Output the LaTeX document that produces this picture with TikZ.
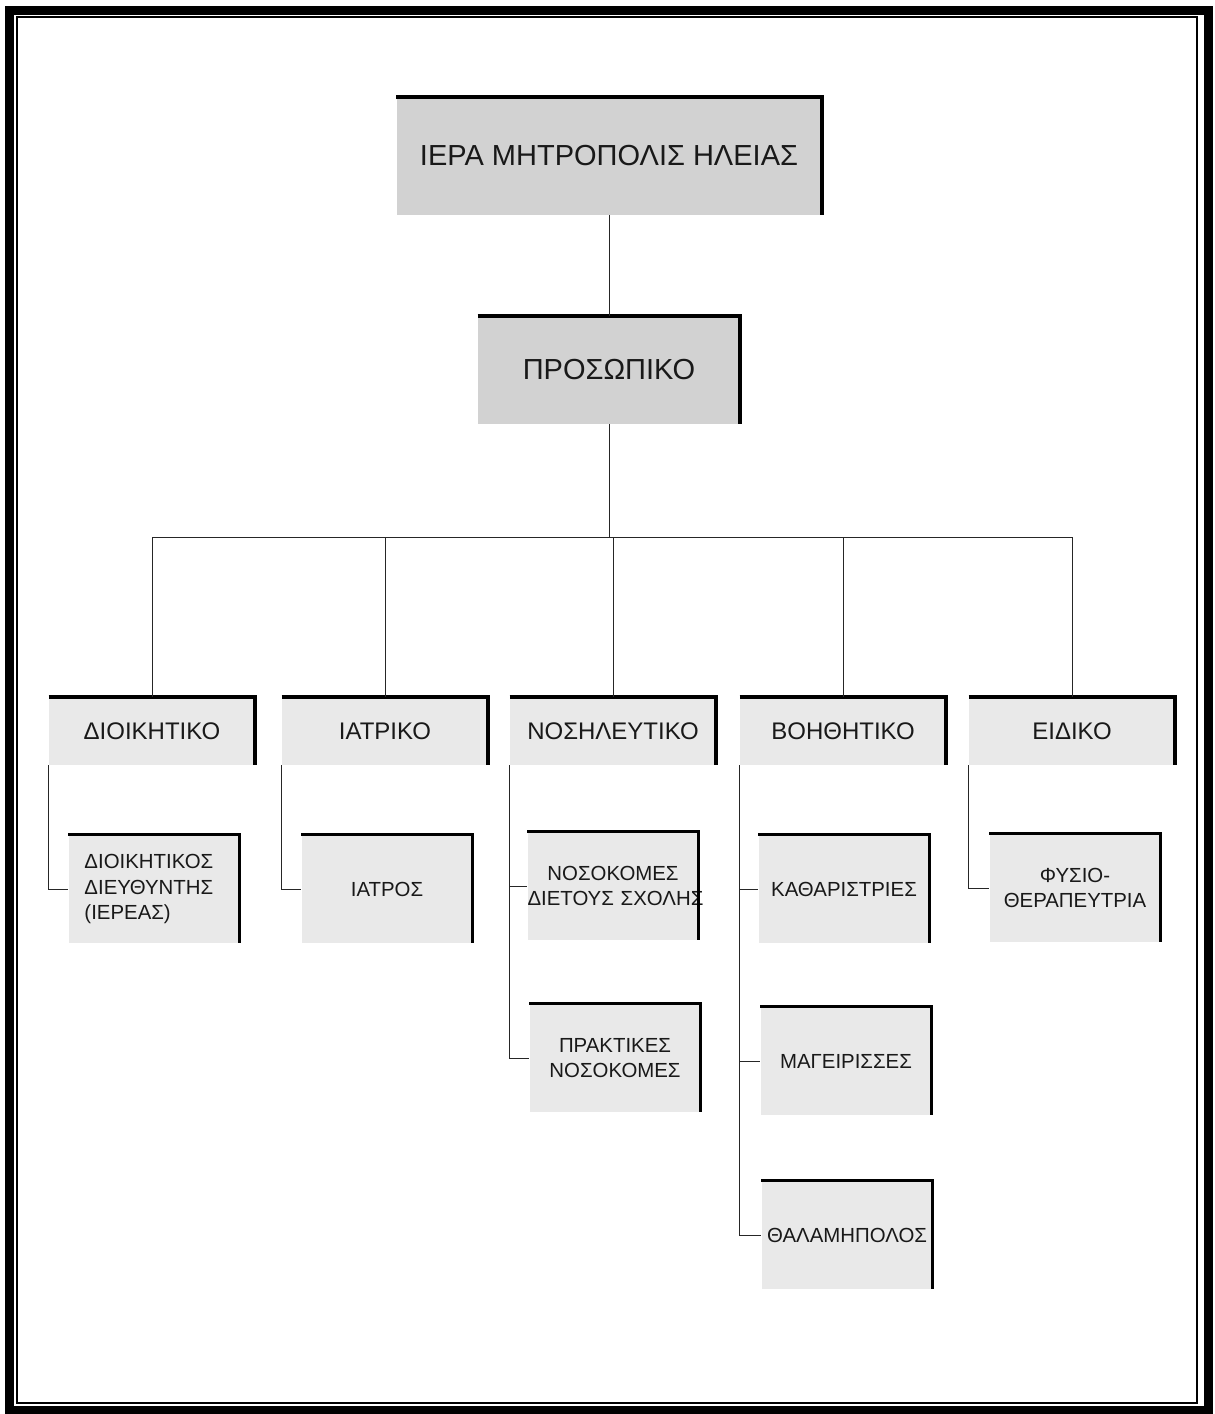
\documentclass[tikz,border=0pt]{standalone}
\usepackage{fontspec}
\setmainfont{Liberation Sans}
\usepackage{tikz}
\usetikzlibrary{positioning}
\tikzset{
    base/.style={align=center, inner sep=0pt, text=black!90},
    topbox/.style={base, fill=gray!35, minimum height=59pt, font=\fontsize{14.5}{17}\selectfont},
    headbox/.style={base, fill=gray!17, minimum width=103pt, minimum height=34pt, font=\fontsize{12}{14}\selectfont},
    jobbox/.style={base, fill=gray!17, text width=85.5pt, minimum height=54pt, font=\fontsize{10.2}{12.8}\selectfont},
    bigedge/.style={line width=2pt, line join=miter},
    smalledge/.style={line width=1.5pt, line join=miter},
    link/.style={draw, line width=0.5pt, black!85}
}

\begin{document}
\begin{tikzpicture}[x=0.5pt, y=-0.5pt]
    \useasboundingbox (0,0) rectangle (1215,1414);

    % Frame
    \draw[line width=4.5pt] (9,10) rectangle (1208,1410);
    \draw[line width=0.6pt] (17,17) rectangle (1197,1403);

    % Top
    \node[topbox, minimum width=212.5pt] (root) at (609,156) {ΙΕΡΑ ΜΗΤΡΟΠΟΛΙΣ ΗΛΕΙΑΣ};
    \node[topbox, minimum width=131pt, minimum height=54pt] (staff) at (609,370) {ΠΡΟΣΩΠΙΚΟ};

    % Departments
    \node[headbox] (admin) at (152,731) {ΔΙΟΙΚΗΤΙΚΟ};
    \node[headbox] (medical) at (385,731) {ΙΑΤΡΙΚΟ};
    \node[headbox] (nursing) at (613,731) {ΝΟΣΗΛΕΥΤΙΚΟ};
    \node[headbox] (aux) at (843,731) {ΒΟΗΘΗΤΙΚΟ};
    \node[headbox] (special) at (1072,731) {ΕΙΔΙΚΟ};

    % Jobs
    \node[jobbox, align=left] (director) at (154,889) {\hspace*{8pt}ΔΙΟΙΚΗΤΙΚΟΣ\\\hspace*{8pt}ΔΙΕΥΘΥΝΤΗΣ\\\hspace*{8pt}(ΙΕΡΕΑΣ)};
    \node[jobbox] (doctor) at (387,889) {ΙΑΤΡΟΣ};
    \node[jobbox] (nurses) at (613,886) {ΝΟΣΟΚΟΜΕΣ\\\mbox{ΔΙΕΤΟΥΣ ΣΧΟΛΗΣ}};
    \node[jobbox] (practical) at (615,1058) {ΠΡΑΚΤΙΚΕΣ\\ΝΟΣΟΚΟΜΕΣ};
    \node[jobbox] (cleaners) at (844,889) {ΚΑΘΑΡΙΣΤΡΙΕΣ};
    \node[jobbox] (cooks) at (846,1061) {ΜΑΓΕΙΡΙΣΣΕΣ};
    \node[jobbox] (porter) at (847,1235) {ΘΑΛΑΜΗΠΟΛΟΣ};
    \node[jobbox] (physio) at (1075,888) {ΦΥΣΙΟ-\\ΘΕΡΑΠΕΥΤΡΙΑ};

    % Shadow edges
    \foreach \n in {root,staff,admin,medical,nursing,aux,special}
        \draw[bigedge] (\n.north west) -- (\n.north east) -- (\n.south east);
    \foreach \n in {director,doctor,nurses,practical,cleaners,cooks,porter,physio}
        \draw[smalledge] (\n.north west) -- (\n.north east) -- (\n.south east);

    % Links
    \coordinate (bus) at (609,537);
    \draw[link] (root) -- (staff);
    \draw[link] (staff) -- (bus);
    \draw[link] (bus) -| (admin.north);
    \draw[link] (bus) -| (medical.north);
    \draw[link] (bus) -| (nursing.north);
    \draw[link] (bus) -| (aux.north);
    \draw[link] (bus) -| (special.north);

    \draw[link] (admin.south west) |- (director.west);
    \draw[link] (medical.south west) |- (doctor.west);
    \draw[link] (nursing.south west) |- (nurses.west);
    \draw[link] (nursing.south west) |- (practical.west);
    \draw[link] (aux.south west) |- (cleaners.west);
    \draw[link] (aux.south west) |- (cooks.west);
    \draw[link] (aux.south west) |- (porter.west);
    \draw[link] (special.south west) |- (physio.west);
\end{tikzpicture}
\end{document}
